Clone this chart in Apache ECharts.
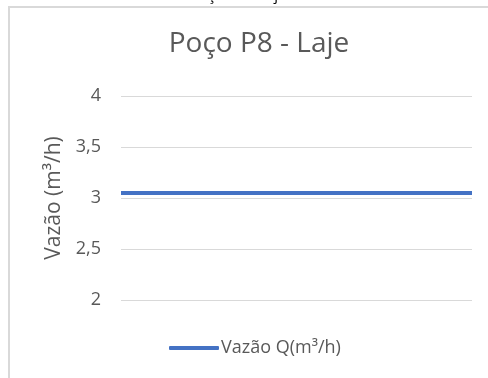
<!DOCTYPE html>
<html>
<head>
<meta charset="utf-8">
<script src="https://cdn.jsdelivr.net/npm/echarts@6/dist/echarts.min.js"></script>
<style>
  html, body { margin: 0; padding: 0; background: #fff; }
  #chart { width: 488px; height: 378px; }
</style>
</head>
<body>
<div id="chart"></div>
<script>
// Flow rate readings for well P8 (Laje)
const categories = ['1', '2', '3', '4', '5', '6', '7', '8', '9', '10', '11', '12'];
const flowValues = [3.05, 3.05, 3.05, 3.05, 3.05, 3.05, 3.05, 3.05, 3.05, 3.05, 3.05, 3.05];
const yTicks = ['2', '2,5', '3', '3,5', '4'];

const font = '"Open Sans", "Noto Sans", sans-serif';
const chart = echarts.init(document.getElementById('chart'), null, { renderer: 'canvas' });

chart.setOption({
  animation: false,
  backgroundColor: '#ffffff',
  textStyle: { fontFamily: font },
  title: {
    text: 'Poço P8 - Laje',
    left: 254,
    textAlign: 'center',
    top: 25,
    textStyle: { fontFamily: font, fontSize: 28, fontWeight: 'normal', color: '#595959' }
  },
  graphic: [
    {
      type: 'rect',
      shape: { x: 9, y: 7, width: 520, height: 420 },
      style: { fill: 'none', stroke: '#d9d9d9', lineWidth: 2 },
      z: -1
    },
    {
      type: 'text',
      x: 238,
      y: -12,
      style: { text: 'Poço P8 - Laje', font: '15px ' + font, fill: '#000000', textAlign: 'center' }
    }
  ],
  legend: {
    data: ['Vazão Q(m³/h)'],
    top: 334,
    left: 164,
    icon: 'roundRect',
    itemWidth: 50,
    itemHeight: 4,
    itemGap: 2,
    textStyle: { fontFamily: font, fontSize: 18, color: '#595959', padding: [0, 0, 0, -3] }
  },
  grid: { left: 121, right: 16, top: 96, bottom: 78, containLabel: false },
  xAxis: {
    type: 'category',
    data: categories,
    boundaryGap: false,
    axisLine: { show: false },
    axisTick: { show: false },
    axisLabel: { show: false },
    splitLine: { show: false }
  },
  yAxis: {
    type: 'value',
    min: 2,
    max: 4,
    interval: 0.5,
    name: 'Vazão (m³/h)',
    nameLocation: 'middle',
    nameGap: 47,
    nameTextStyle: { fontFamily: font, fontSize: 21, color: '#595959' },
    axisLine: { show: false },
    axisTick: { show: false },
    axisLabel: {
      fontFamily: font,
      fontSize: 18,
      color: '#595959',
      margin: 20,
      formatter: function (v) {
        const idx = Math.round((v - 2) / 0.5);
        return yTicks[idx] !== undefined ? yTicks[idx] : '';
      }
    },
    splitLine: { lineStyle: { color: '#d9d9d9', width: 1 } }
  },
  series: [
    {
      name: 'Vazão Q(m³/h)',
      type: 'line',
      data: flowValues,
      symbol: 'none',
      lineStyle: { color: '#4472C4', width: 4, cap: 'butt' },
      itemStyle: { color: '#4472C4' }
    }
  ]
});
</script>
</body>
</html>
